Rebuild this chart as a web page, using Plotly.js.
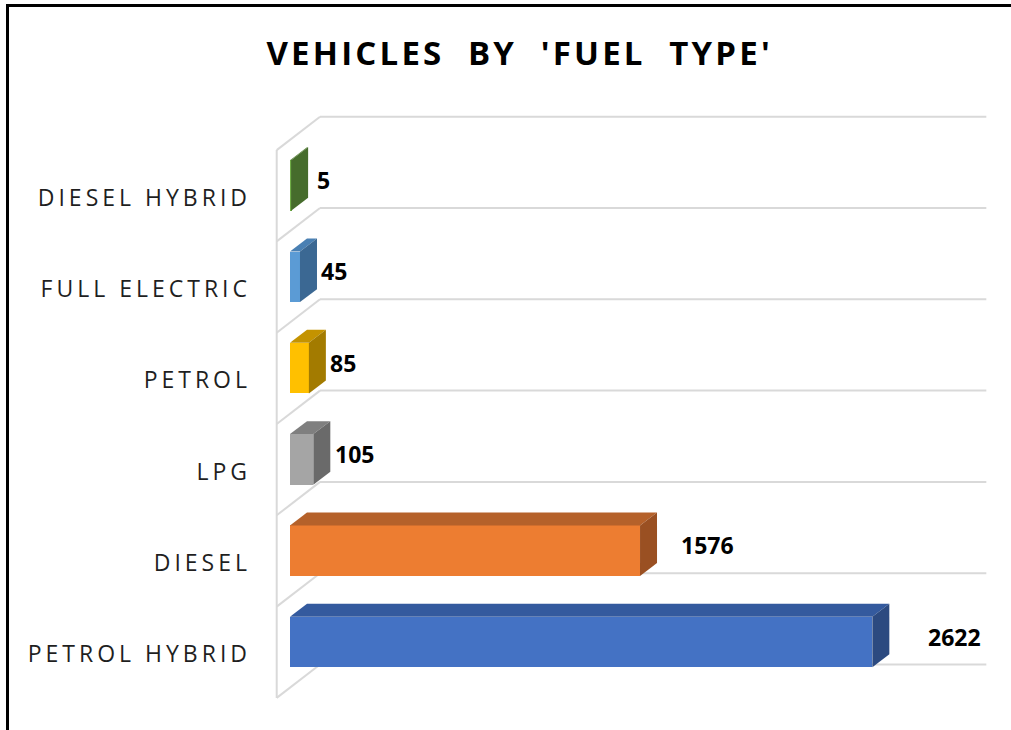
<!DOCTYPE html>
<html>
<head>
<meta charset="utf-8">
<script src="https://cdn.plot.ly/plotly-3.0.1.min.js"></script>
<style>
  html, body { margin: 0; padding: 0; background: #ffffff; }
  #wrap { position: relative; width: 1011px; height: 730px; overflow: hidden; }
  #chart { width: 1011px; height: 730px; }
  #frame { position: absolute; left: 6px; top: 4px; width: 1100px; height: 800px;
           border-left: 3px solid #000; border-top: 3px solid #000; pointer-events: none; }
  .gtitle { letter-spacing: 3.2px; }
  .ytick text { letter-spacing: 4px; }
</style>
</head>
<body>
<div id="wrap">
  <div id="chart"></div>
  <div id="frame"></div>
</div>
<script>
// ---- data (bottom to top) ----
const categories = ['PETROL HYBRID', 'DIESEL', 'LPG', 'PETROL', 'FULL ELECTRIC', 'DIESEL HYBRID'];
const values = [2622, 1576, 105, 85, 45, 5];
const frontColors = ['#4472C4', '#ED7D31', '#A5A5A5', '#FFC000', '#5B9BD5', '#70AD47'];
const topColors   = ['#345A9E', '#B5612A', '#7F7F7F', '#C49300', '#4A80B3', '#537F33'];
const sideColors  = ['#2C4A80', '#9A5022', '#6A6A6A', '#A37B00', '#3B6893', '#466C2C'];
const titleText = "VEHICLES  BY  'FUEL  TYPE'";
const axisMax = 3000;

// ---- 3D geometry helpers (in data units) ----
const half = 0.277;                 // half bar thickness (category units)
const barDepth = [76.5, 0.142];     // bar depth vector (value units, category units)
const wallDepth = [195, 0.366];     // full floor depth vector
const barPlaneT = 0.307;            // where bars' front face sits in the full depth
const frontOff = [-wallDepth[0] * barPlaneT, -wallDepth[1] * barPlaneT];
const backOff = [wallDepth[0] * (1 - barPlaneT), wallDepth[1] * (1 - barPlaneT)];

const traces = [];
const gridColor = '#D9D9D9';
const n = categories.length;

// back-wall gridlines + side-wall diagonals (drawn below the traces)
const shapes = [];
const gline = (x0, y0, x1, y1) => shapes.push({ type: 'line', xref: 'x', yref: 'y', layer: 'below',
  x0: x0, y0: y0, x1: x1, y1: y1, line: { color: gridColor, width: 2 } });
for (let k = 0; k <= n; k++) {
  const b = k - 0.5;
  gline(backOff[0], b + backOff[1], axisMax + backOff[0], b + backOff[1]);
  gline(frontOff[0], b + frontOff[1], backOff[0], b + backOff[1]);
}
gline(frontOff[0], -0.5 + frontOff[1], frontOff[0], n - 0.5 + frontOff[1]);

// front faces as a real bar trace
traces.push({
  type: 'bar', orientation: 'h', y: categories.map((c, i) => i), x: values,
  width: half * 2, marker: { color: frontColors, line: { width: 0 } },
  name: 'Vehicles', showlegend: false,
  hovertext: categories, hovertemplate: '%{hovertext}: %{x}<extra></extra>'
});

// top and side faces
values.forEach((v, i) => {
  const [dx, dy] = barDepth;
  traces.push({ type: 'scatter', mode: 'lines', fill: 'toself',
    x: [0, v, v + dx, dx, 0], y: [i + half, i + half, i + half + dy, i + half + dy, i + half],
    fillcolor: topColors[i], line: { width: 0, color: topColors[i] },
    hoverinfo: 'skip', showlegend: false });
  traces.push({ type: 'scatter', mode: 'lines', fill: 'toself',
    x: [v, v, v + dx, v + dx, v], y: [i - half, i + half, i + half + dy, i - half + dy, i - half],
    fillcolor: sideColors[i], line: { width: 0, color: sideColors[i] },
    hoverinfo: 'skip', showlegend: false });
});

// data labels
const annotations = values.map((v, i) => ({
  x: Math.max(v * 1.06 + 82, 112), y: i + 0.06, xref: 'x', yref: 'y',
  text: String(v), showarrow: false, xanchor: 'left', yanchor: 'middle',
  font: { family: 'Open Sans, sans-serif', size: 23, color: '#000000', weight: 'bold' }
}));

// axes mapping: 0.2221 px per value unit, 91.3 px per category
const L = 270, R = 5, T = 100, B = 10;
const pxPerVal = 0.2221, pxPerCat = 91.3, zeroPx = 290, cat0Px = 642;
const xRange = [(L - zeroPx) / pxPerVal, (1011 - R - zeroPx) / pxPerVal];
const yRange = [(cat0Px - (730 - B)) / pxPerCat, (cat0Px - T) / pxPerCat];

const layout = {
  width: 1011, height: 730,
  margin: { l: L, r: R, t: T, b: B, pad: 0 },
  paper_bgcolor: '#ffffff', plot_bgcolor: '#ffffff',
  title: { text: '<b>' + titleText + '</b>', x: 0.514, xref: 'container', xanchor: 'center',
           y: 1 - 53 / 730, yref: 'container', yanchor: 'middle',
           font: { family: 'Open Sans, sans-serif', size: 33, color: '#000000' } },
  xaxis: { range: xRange, showgrid: false, zeroline: false, showline: false,
           showticklabels: false, ticks: '', fixedrange: true },
  yaxis: { range: yRange, showgrid: false, zeroline: false, showline: false, ticks: '',
           tickmode: 'array', tickvals: categories.map((c, i) => i + frontOff[1] - 0.02),
           ticktext: categories, ticklabelstandoff: 18,
           tickfont: { family: 'Open Sans, sans-serif', size: 23, color: '#1f1f1f' },
           fixedrange: true },
  shapes: shapes,
  annotations: annotations,
  showlegend: false,
  bargap: 0
};

Plotly.newPlot('chart', traces, layout, { displayModeBar: false });
</script>
</body>
</html>
